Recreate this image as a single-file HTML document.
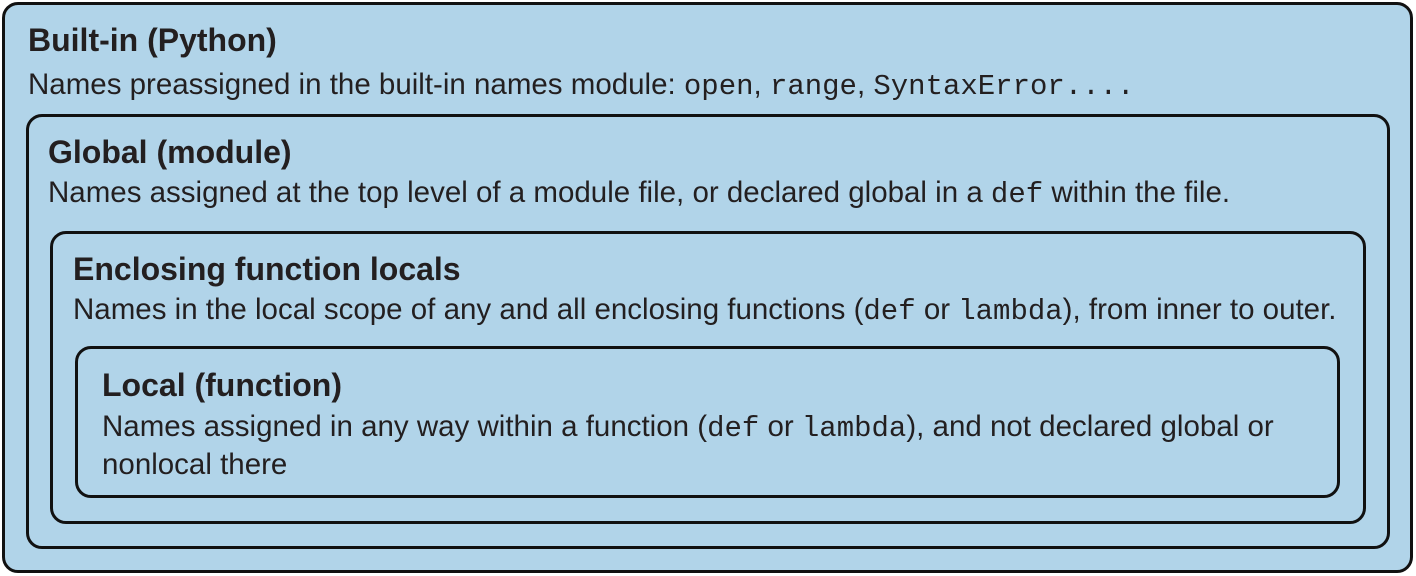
<!DOCTYPE html>
<html><head><style>
body{margin:0;width:1416px;height:576px;background:#fff;position:relative;font-family:"Liberation Sans",sans-serif;color:#231f20}
.b{position:absolute;border:3px solid #111;border-radius:16px;background:#b1d4e9;box-sizing:border-box}
.t{position:absolute;white-space:nowrap;line-height:36px}
.h{font-weight:bold;font-size:32px}
.p{font-size:29.5px}
code{font-family:"Liberation Mono",monospace;font-size:29px;letter-spacing:0}
</style></head><body>
<div class="b" style="left:2px;top:2px;width:1411px;height:571px"></div>
<div class="b" style="left:26px;top:114px;width:1364px;height:435px"></div>
<div class="b" style="left:50px;top:231px;width:1316px;height:293px"></div>
<div class="b" style="left:75px;top:346px;width:1265px;height:152px"></div>
<div class="t h" style="left:28px;top:22px">Built-in (Python)</div>
<div class="t p" style="left:28px;top:67px">Names preassigned in the built-in names module: <code>open</code>, <code>range</code>, <code>SyntaxError....</code></div>
<div class="t h" style="left:48px;top:134px">Global (module)</div>
<div class="t p" style="left:48px;top:175px">Names assigned at the top level of a module file, or declared global in a <code>def</code> within the file.</div>
<div class="t h" style="left:73px;top:251px">Enclosing function locals</div>
<div class="t p" style="left:73px;top:292px">Names in the local scope of any and all enclosing functions (<code>def</code> or <code>lambda</code>), from inner to outer.</div>
<div class="t h" style="left:102px;top:367px">Local (function)</div>
<div class="t p" style="left:102px;top:409px">Names assigned in any way within a function (<code>def</code> or <code>lambda</code>), and not declared global or</div>
<div class="t p" style="left:102px;top:447px">nonlocal there</div>
</body></html>
